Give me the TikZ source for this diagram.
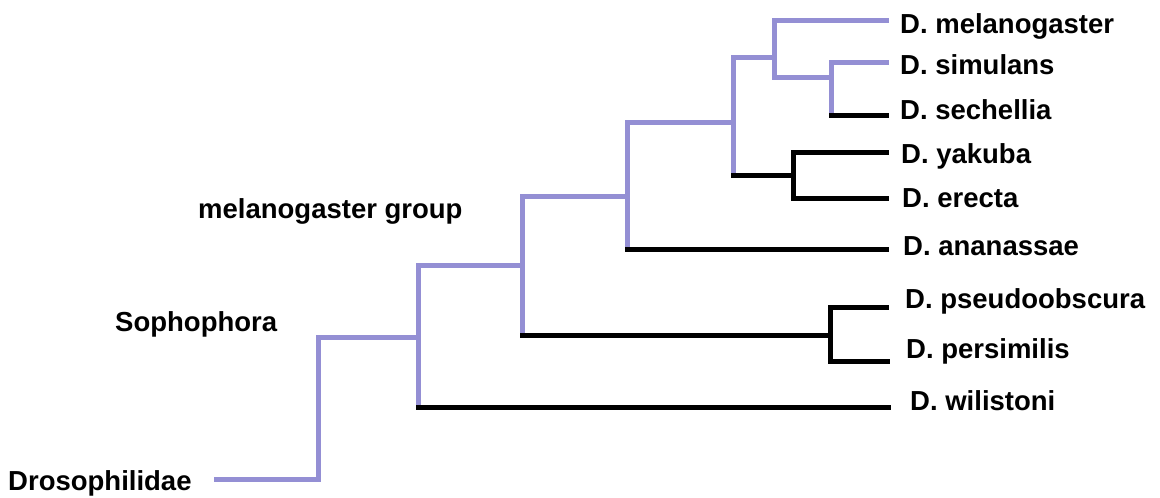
\documentclass[tikz,border=0pt]{standalone}
\usepackage{fontspec}
\setmainfont{Liberation Sans}
\usepackage{xcolor}
\usepackage{tikz}
\usetikzlibrary{positioning}
\definecolor{clade_mid}{RGB}{148, 143, 212}

\begin{document}
\begin{tikzpicture}[x=1pt, y=-1pt,
    lineage/.style={draw=clade_mid, line width=5pt, line cap=rect, line join=miter},
    branch/.style={draw=black, line width=5pt, line cap=rect, line join=miter},
    species/.style={font=\fontsize{27.5}{33}\selectfont\bfseries, inner sep=0pt, anchor=base west},
    clade/.style={font=\fontsize{27.5}{33}\selectfont\bfseries, inner sep=0pt, anchor=base west}]
          \useasboundingbox (0,0) rectangle (1160,498);
          \coordinate (sp1) at (886, 20);
          \coordinate (sp2) at (886, 62);
          \coordinate (sp3) at (886,115);
          \coordinate (sp4) at (886,152);
          \coordinate (sp5) at (886,198);
          \coordinate (sp6) at (886,249);
          \coordinate (sp7) at (886,307);
          \coordinate (sp8) at (887,361);
          \coordinate (sp9) at (888,407);
          \coordinate (nA) at (774, 57);
          \coordinate (nB) at (831, 77);
          \coordinate (nC) at (793,175);
          \coordinate (nD) at (733,122);
          \coordinate (nE) at (627,196);
          \coordinate (nF) at (522,265);
          \coordinate (nG) at (830,335);
          \coordinate (nH) at (418,337);
          \coordinate (nR) at (318,479);
          \coordinate (root) at (216,479);
          \draw[lineage] (root) -- (nR) |- (nH);
          \draw[lineage] (sp9 -| nH) |- (nF);
          \draw[lineage] (nG -| nF) |- (nE);
          \draw[lineage] (sp6 -| nE) |- (nD);
          \draw[lineage] (nC -| nD) |- (nA);
          \draw[lineage] (nB) -- (nB -| nA) |- (sp1);
          \draw[lineage] (sp3 -| nB) |- (sp2);
          \draw[branch] (sp3 -| nB) -- (sp3);
          \draw[branch] (nC -| nD) -- (nC);
          \draw[branch] (sp4) -| (sp5 -| nC) -- (sp5);
          \draw[branch] (sp6 -| nE) -- (sp6);
          \draw[branch] (nG -| nF) -- (nG);
          \draw[branch] (sp7) -| (sp8 -| nG) -- (sp8);
          \draw[branch] (sp9 -| nH) -- (sp9);
          \node[species] (mel) at (900, 33) {D. melanogaster};
          \node[species] (sim) at (900, 74) {D. simulans};
          \node[species] (sec) at (900,119) {D. sechellia};
          \node[species] (yak) at (901,163) {D. yakuba};
          \node[species] (ere) at (902,207) {D. erecta};
          \node[species] (ana) at (903,255) {D. ananassae};
          \node[species] (pse) at (905,308) {D. pseudoobscura};
          \node[species] (per) at (906,358) {D. persimilis};
          \node[species] (wil) at (910,410) {D. wilistoni};
          \node[clade] (melgrp) at (198,218) {melanogaster group};
          \node[clade] (soph) at (115,331) {Sophophora};
          \node[clade] (dros) at (8,490) {Drosophilidae};
        \end{tikzpicture}
\end{document}
